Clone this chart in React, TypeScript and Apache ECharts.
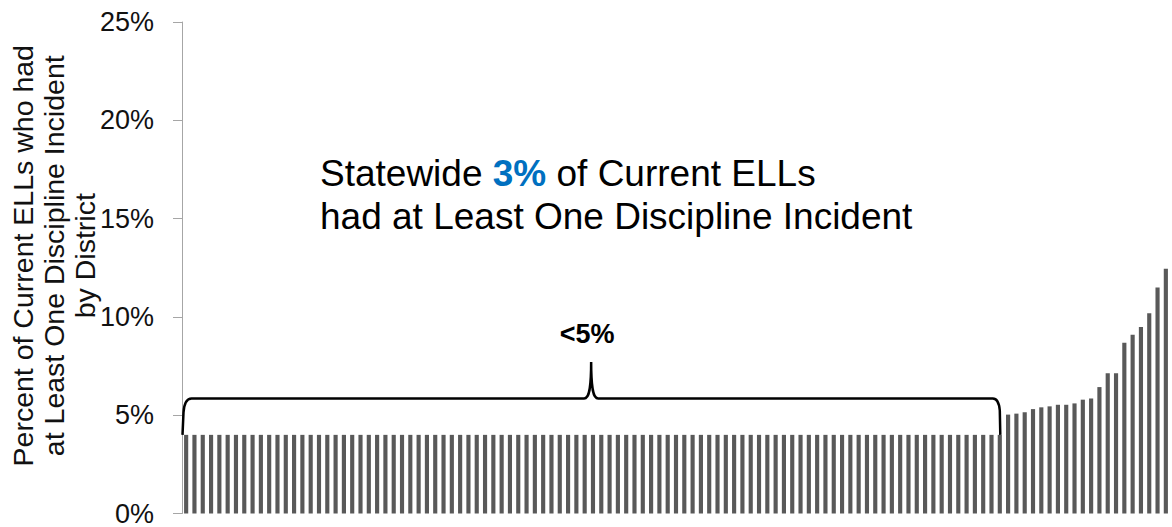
import React, { useEffect, useRef } from "react";
import * as echarts from "echarts";

// Percent of current ELLs with at least one discipline incident, by district (sorted)
const lowValues = [
  4, 4, 4, 4, 4, 4, 4, 4, 4, 4, 4, 4, 4, 4, 4, 4, 4, 4, 4, 4,
  4, 4, 4, 4, 4, 4, 4, 4, 4, 4, 4, 4, 4, 4, 4, 4, 4, 4, 4, 4,
  4, 4, 4, 4, 4, 4, 4, 4, 4, 4, 4, 4, 4, 4, 4, 4, 4, 4, 4, 4,
  4, 4, 4, 4, 4, 4, 4, 4, 4, 4, 4, 4, 4, 4, 4, 4, 4, 4, 4, 4,
  4, 4, 4, 4, 4, 4, 4, 4, 4, 4, 4, 4, 4, 4, 4, 4, 4, 4, 4,
];
const highValues = [
  5.03, 5.08, 5.15, 5.31, 5.4, 5.45, 5.53, 5.53, 5.6, 5.79,
  5.85, 6.43, 7.14, 7.14, 8.69, 9.09, 9.48, 10.19, 11.49, 12.45,
];
const values = [...lowValues, ...highValues];
const districts = values.map((_, i) => "District " + (i + 1));

const yTicks = { min: 0, max: 25, interval: 5 };
const yTitleLines = [
  "Percent of Current ELLs who had",
  "at Least One Discipline Incident",
  "by District",
];
const annotationLine1 = ["Statewide ", "3%", " of Current ELLs"];
const annotationLine2 = "had at Least One Discipline Incident";
const braceLabel = "<5%";
// brace geometry in data values
const braceLevels = { bottom: 4, line: 5.85, peak: 7.7 };

const FONT = "'Liberation Sans', Arial, sans-serif";

export default function App() {
  const ref = useRef<HTMLDivElement>(null);

  useEffect(() => {
    if (!ref.current) return;
    const chart = echarts.init(ref.current, null, { renderer: "svg" });
    const option: any = {
      animation: false,
      backgroundColor: "#ffffff",
      grid: { left: 182, right: 2, top: 22, bottom: 11, containLabel: false },
      xAxis: {
        type: "category",
        data: districts,
        axisLine: { show: false },
        axisTick: { show: false },
        axisLabel: { show: false },
      },
      yAxis: {
        type: "value",
        min: yTicks.min,
        max: yTicks.max,
        interval: yTicks.interval,
        axisLine: { show: true, lineStyle: { color: "#A6A6A6", width: 1 } },
        axisTick: { show: true, length: 9, lineStyle: { color: "#A6A6A6" } },
        splitLine: { show: false },
        axisLabel: {
          margin: 28,
          fontFamily: FONT,
          fontSize: 27,
          color: "#111111",
          formatter: (v: number) => v + "%",
        },
      },
      series: [
        {
          type: "bar",
          data: values,
          barCategoryGap: "50%",
          itemStyle: { color: "#595959" },
        },
      ],
    };
    chart.setOption(option);

    const lastLow = lowValues.length - 1;
    const x0 = chart.convertToPixel({ gridIndex: 0 }, [0, 0])[0];
    const x1 = chart.convertToPixel({ gridIndex: 0 }, [1, 0])[0];
    const band = x1 - x0;
    const xL = x0 - band / 2 + 0.5;
    const xR = chart.convertToPixel({ gridIndex: 0 }, [lastLow, 0])[0];
    const yB = chart.convertToPixel({ gridIndex: 0 }, [0, braceLevels.bottom])[1];
    const yL = chart.convertToPixel({ gridIndex: 0 }, [0, braceLevels.line])[1];
    const yP = chart.convertToPixel({ gridIndex: 0 }, [0, braceLevels.peak])[1];
    const xM = (xL + xR) / 2;

    const d =
      `M ${xL} ${yB} L ${xL + 1} ${yL + 14} Q ${xL + 2} ${yL} ${xL + 9} ${yL} ` +
      `L ${xM - 7} ${yL} C ${xM - 2} ${yL} ${xM} ${yL - 10} ${xM} ${yP} ` +
      `C ${xM} ${yL - 10} ${xM + 2} ${yL} ${xM + 7} ${yL} ` +
      `L ${xR - 7} ${yL} Q ${xR - 1} ${yL} ${xR} ${yL + 12} L ${xR + 0.5} ${yB}`;
    echarts.graphic.registerShape("brace", echarts.graphic.extendPath(d, {}));

    const plotTop = chart.convertToPixel({ gridIndex: 0 }, [0, yTicks.max])[1];
    const plotBottom = chart.convertToPixel({ gridIndex: 0 }, [0, yTicks.min])[1];
    const titleCenterY = (plotTop + plotBottom) / 2 - 12;

    chart.setOption({
      graphic: [
        {
          type: "brace",
          x: 0,
          y: 0,
          silent: true,
          style: { stroke: "#000000", lineWidth: 2.5, fill: "none" },
          z: 10,
        },
        {
          type: "text",
          x: xM - 4,
          y: yP - 28,
          style: {
            text: braceLabel,
            fontFamily: FONT,
            fontSize: 27,
            fontWeight: "bold",
            fill: "#000000",
            textAlign: "center",
            textVerticalAlign: "middle",
          },
        },
        {
          type: "text",
          x: 320,
          y: 152,
          style: {
            text:
              "{n|" + annotationLine1[0] + "}{b|" + annotationLine1[1] + "}{n|" +
              annotationLine1[2] + "}\n{n|" + annotationLine2 + "}",
            fontFamily: FONT,
            fontSize: 37,
            fill: "#000000",
            lineHeight: 43,
            textAlign: "left",
            textVerticalAlign: "top",
            rich: {
              n: { fontFamily: FONT, fontSize: 37, lineHeight: 43, fill: "#000000", color: "#000000" },
              b: { fontFamily: FONT, fontSize: 37, lineHeight: 43, fontWeight: "bold", fill: "#0070C0", color: "#0070C0" },
            },
          },
        },
        {
          type: "text",
          x: 54,
          y: titleCenterY,
          rotation: Math.PI / 2,
          style: {
            text: yTitleLines.join("\n"),
            fontFamily: FONT,
            fontSize: 28.5,
            lineHeight: 31,
            fill: "#111111",
            textAlign: "center",
            textVerticalAlign: "middle",
          },
        },
      ],
    });

    return () => chart.dispose();
  }, []);

  return (
    <div
      ref={ref}
      style={{ position: "fixed", left: 0, top: 0, width: 1172, height: 527, background: "#fff" }}
    />
  );
}
